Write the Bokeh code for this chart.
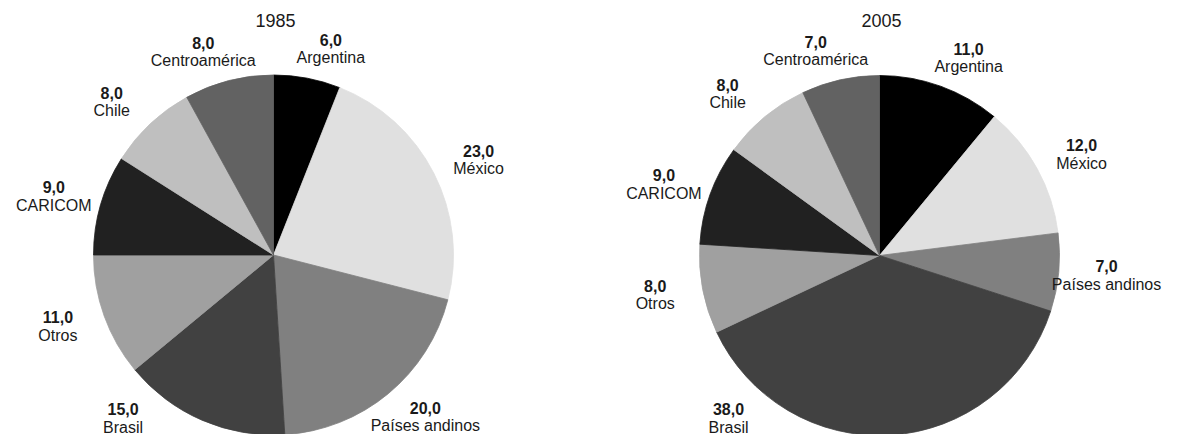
import numpy as np
from bokeh.plotting import figure
from bokeh.models import ColumnDataSource, Range1d
from bokeh.embed import file_html
from bokeh.resources import INLINE
from bokeh.core.properties import value

# ---- data ----
categories = ["Argentina", "México", "Países andinos", "Brasil", "Otros",
              "CARICOM", "Chile", "Centroamérica"]
values_1985 = [6.0, 23.0, 20.0, 15.0, 11.0, 9.0, 8.0, 8.0]
values_2005 = [11.0, 12.0, 7.0, 38.0, 8.0, 9.0, 8.0, 7.0]
years = ["1985", "2005"]

# ---- style / layout ----
colors = ["#000000", "#e0e0e0", "#808080", "#414141", "#a0a0a0",
          "#212121", "#bfbfbf", "#626262"]
FONT = "Liberation Sans"
TEXT_COLOR = "#1a1a1a"
W, H = 1178, 434
centers = [(273.0, 179.5), (879.0, 179.0)]
R = 180.0
LABEL_R = 210.0
LABEL_SHIFT = 18.0
BOTTOM_LIMIT = 16.5
LINE_GAP = 9.0
TITLE_Y = 414.5

p = figure(width=W, height=H, x_range=Range1d(0, W), y_range=Range1d(0, H),
           output_backend="svg", toolbar_location=None,
           x_axis_type=None, y_axis_type=None, min_border=0)
p.grid.visible = False
p.outline_line_color = None
p.background_fill_color = "white"
p.border_fill_color = "white"

for (cx, cy), year, vals in zip(centers, years, [values_1985, values_2005]):
    v = np.array(vals, dtype=float)
    frac = v / v.sum()
    cum_end = np.cumsum(frac)
    cum_start = cum_end - frac
    # clockwise from top
    start = np.pi / 2 - 2 * np.pi * cum_start
    end = np.pi / 2 - 2 * np.pi * cum_end
    src = ColumnDataSource(dict(x=[cx] * len(v), y=[cy] * len(v),
                                start=start, end=end, color=colors,
                                cat=categories))
    p.wedge(x="x", y="y", radius=R, start_angle="start", end_angle="end",
            direction="clock", fill_color="color", line_color="color",
            line_width=0.8, source=src)

    # labels
    mid = 2 * np.pi * (cum_start + frac / 2)  # clockwise from top
    lx, vy, ny = [], [], []
    limit = cy - BOTTOM_LIMIT
    for th in mid:
        if -LABEL_R * np.cos(th) > limit:
            th = 2 * np.pi - np.arccos(-limit / LABEL_R)
        yy = cy + LABEL_R * np.cos(th)
        s = np.sin(th)
        xx = cx + LABEL_R * s + LABEL_SHIFT * np.sign(s)
        lx.append(xx)
        vy.append(yy + LINE_GAP)
        ny.append(yy - LINE_GAP)
    vtxt = [f"{x:.1f}".replace(".", ",") for x in v]
    lsrc = ColumnDataSource(dict(x=lx, vy=vy, ny=ny, vt=vtxt, nt=categories))
    p.text(x="x", y="vy", text="vt", source=lsrc, text_font=value(FONT),
           text_font_size="16px", text_font_style="bold",
           text_align="center", text_baseline="middle", text_color=TEXT_COLOR)
    p.text(x="x", y="ny", text="nt", source=lsrc, text_font=value(FONT),
           text_font_size="16px", text_align="center",
           text_baseline="middle", text_color=TEXT_COLOR)
    p.text(x=[cx + 2], y=[TITLE_Y], text=[year], text_font=value(FONT),
           text_font_size="18px", text_align="center",
           text_baseline="middle", text_color=TEXT_COLOR)

open("out.html", "w").write(file_html(p, INLINE))
